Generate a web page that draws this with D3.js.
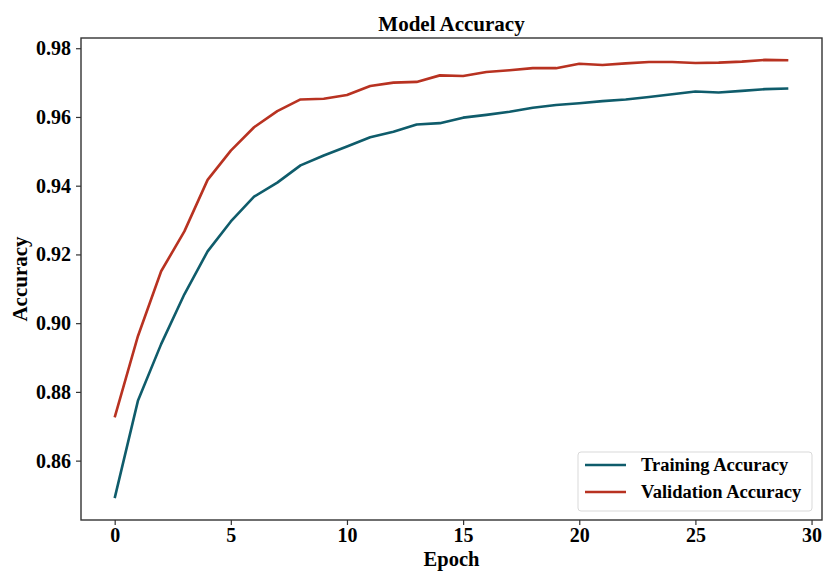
<!DOCTYPE html>
<html>
<head>
<meta charset="utf-8">
<script src="https://cdn.jsdelivr.net/npm/d3@7"></script>
<style>
  body { margin: 0; background: #fff; }
  svg text { font-family: "Liberation Serif", "Times New Roman", serif; font-weight: bold; fill: #000; }
</style>
</head>
<body>
<svg id="chart" width="825" height="571"></svg>
<script>
// values
const epochs = d3.range(30)
const trainAcc = [
  0.8491, 0.8774, 0.8939, 0.9084, 0.9209, 0.9296, 0.9368, 0.9409, 0.9459, 0.9488,
  0.9514, 0.9541, 0.9557, 0.9578, 0.9582, 0.9598, 0.9606, 0.9615, 0.9627, 0.9635,
  0.9640, 0.9646, 0.9651, 0.9658, 0.9666, 0.9674, 0.9671, 0.9676, 0.9681, 0.9683
]
const valAcc = [
  0.8726, 0.8962, 0.9151, 0.9267, 0.9417, 0.9502, 0.9570, 0.9617, 0.9651, 0.9653,
  0.9664, 0.9690, 0.9700, 0.9702, 0.9721, 0.9719, 0.9731, 0.9736, 0.9742, 0.9742,
  0.9755, 0.9751, 0.9756, 0.9760, 0.9760, 0.9757, 0.9758, 0.9761, 0.9766, 0.9765
]
const xTicks = [0, 5, 10, 15, 20, 25, 30]
const yTicks = [0.86, 0.88, 0.90, 0.92, 0.94, 0.96, 0.98]
const series = [
  { name: 'Training Accuracy', values: trainAcc, color: '#0f5c6b' },
  { name: 'Validation Accuracy', values: valAcc, color: '#b83221' }
]

const margin = { left: 81, right: 3, top: 38, bottom: 51 }
const width = 825
const height = 571
const svg = d3.select('#chart')

// matplotlib style 5% padding
const allVals = trainAcc.concat(valAcc)
const yMin = d3.min(allVals)
const yMax = d3.max(allVals)
const yPad = (yMax - yMin) * 0.05
const xPad = (epochs.length - 1) * 0.05

const x = d3.scaleLinear()
  .domain([-xPad, epochs.length - 1 + xPad])
  .range([margin.left, width - margin.right])
const y = d3.scaleLinear()
  .domain([yMin - yPad, yMax + yPad])
  .range([height - margin.bottom, margin.top])

const line = d3.line()
  .x((d, i) => x(epochs[i]))
  .y(d => y(d))

svg.append('g')
  .selectAll('path')
  .data(series)
  .enter()
  .append('path')
  .attr('d', d => line(d.values))
  .attr('fill', 'none')
  .attr('stroke', d => d.color)
  .attr('stroke-width', 2.6)
  .attr('stroke-linejoin', 'round')

// axes
const xAxis = svg.append('g')
  .attr('transform', `translate(0,${height - margin.bottom})`)
  .call(d3.axisBottom(x).tickValues(xTicks).tickSize(5).tickPadding(3))
const yAxis = svg.append('g')
  .attr('transform', `translate(${margin.left},0)`)
  .call(d3.axisLeft(y).tickValues(yTicks).tickFormat(d3.format('.2f')).tickSize(5).tickPadding(5))

;[xAxis, yAxis].forEach(g => {
  g.select('.domain').remove()
  g.selectAll('.tick line').attr('stroke', '#333').attr('stroke-width', 1.2)
  g.selectAll('.tick text').style('font-size', '20px')
})

// frame
svg.append('rect')
  .attr('x', margin.left)
  .attr('y', margin.top)
  .attr('width', width - margin.left - margin.right)
  .attr('height', height - margin.top - margin.bottom)
  .attr('fill', 'none')
  .attr('stroke', '#333')
  .attr('stroke-width', 1.4)

// titles
svg.append('text')
  .attr('x', (margin.left + width - margin.right) / 2)
  .attr('y', 31)
  .attr('text-anchor', 'middle')
  .style('font-size', '21px')
  .text('Model Accuracy')
svg.append('text')
  .attr('x', (margin.left + width - margin.right) / 2)
  .attr('y', 566)
  .attr('text-anchor', 'middle')
  .style('font-size', '20.5px')
  .text('Epoch')
svg.append('text')
  .attr('transform', `translate(27,${(margin.top + height - margin.bottom) / 2}) rotate(-90)`)
  .attr('text-anchor', 'middle')
  .style('font-size', '21px')
  .text('Accuracy')

// legend
const legend = svg.append('g').attr('transform', 'translate(578,452)')
legend.append('rect')
  .attr('width', 234)
  .attr('height', 59)
  .attr('rx', 3)
  .attr('fill', '#fff')
  .attr('fill-opacity', 0.8)
  .attr('stroke', '#d9d9d9')
legend.selectAll('g.item')
  .data(series)
  .enter()
  .append('g')
  .attr('class', 'item')
  .attr('transform', (d, i) => `translate(0,${13 + i * 27})`)
  .each(function (d) {
    const g = d3.select(this)
    g.append('line')
      .attr('x1', 7).attr('x2', 48)
      .attr('stroke', d.color)
      .attr('stroke-width', 2.6)
    g.append('text')
      .attr('x', 63)
      .attr('dy', '0.35em')
      .style('font-size', '18.5px')
      .text(d.name)
  })
</script>
</body>
</html>
